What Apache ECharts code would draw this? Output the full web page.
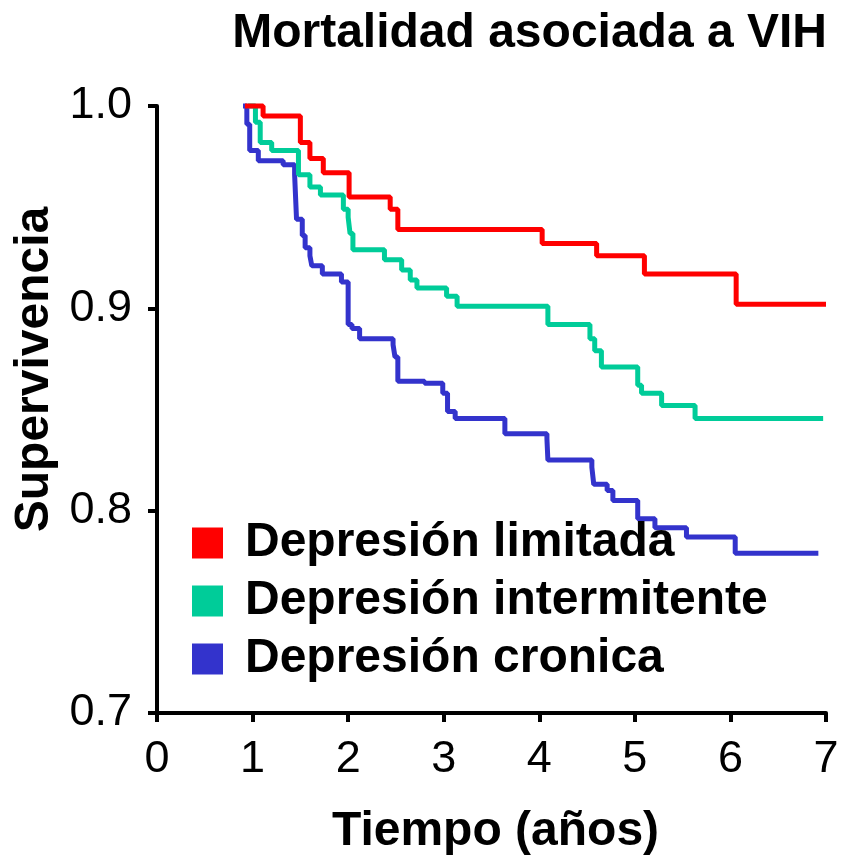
<!DOCTYPE html>
<html>
<head>
<meta charset="utf-8">
<script src="https://cdn.jsdelivr.net/npm/echarts@6/dist/echarts.min.js"></script>
<style>
html,body{margin:0;padding:0;background:#fff;}
#chart{width:849px;height:863px;}
</style>
</head>
<body>
<div id="chart"></div>
<script>
// ---- data (time in years, survival proportion) ----
const titleText = 'Mortalidad asociada a VIH';
const xAxisName = 'Tiempo (años)';
const yAxisName = 'Supervivencia';
const seriesNames = ['Depresión limitada', 'Depresión intermitente', 'Depresión cronica'];
const seriesColors = ['#FF0000', '#00CC99', '#3333CC'];
const xTicks = [0, 1, 2, 3, 4, 5, 6, 7];
const yTicks = [0.7, 0.8, 0.9, 1.0];

const limitadaT = [0.92, 1.11, 1.50, 1.60, 1.74, 2.01, 2.44, 2.52, 4.03, 4.60, 5.10, 6.06, 7.00];
const limitadaS = [1.000, 0.995, 0.982, 0.974, 0.967, 0.955, 0.949, 0.939, 0.932, 0.926, 0.917, 0.902, 0.902];

const intermitenteT = [0.95, 1.03, 1.08, 1.20, 1.48, 1.60, 1.71, 1.95, 2.00, 2.02, 2.05, 2.38, 2.56, 2.65, 2.72, 3.03, 3.14, 4.09, 4.53, 4.58, 4.65, 5.03, 5.07, 5.28, 5.63, 6.97];
const intermitenteS = [1.000, 0.992, 0.982, 0.978, 0.966, 0.960, 0.956, 0.949, 0.945, 0.937, 0.929, 0.924, 0.919, 0.914, 0.910, 0.906, 0.901, 0.892, 0.885, 0.879, 0.871, 0.862, 0.858, 0.852, 0.8455, 0.8455];

const cronicaT = [0.90, 0.94, 0.97, 1.06, 1.32, 1.44, 1.46, 1.52, 1.55, 1.60, 1.62, 1.73, 1.93, 2.00, 2.04, 2.12, 2.47, 2.49, 2.52, 2.80, 2.99, 3.04, 3.12, 3.64, 4.08, 4.09, 4.55, 4.57, 4.71, 4.77, 5.03, 5.21, 5.54, 6.05, 6.92];
const cronicaS = [1.000, 0.991, 0.978, 0.973, 0.971, 0.966, 0.944, 0.936, 0.930, 0.926, 0.921, 0.917, 0.913, 0.892, 0.890, 0.885, 0.882, 0.876, 0.864, 0.863, 0.858, 0.849, 0.8455, 0.838, 0.8355, 0.825, 0.8215, 0.813, 0.810, 0.805, 0.796, 0.7915, 0.787, 0.779, 0.779];

const zip = (t, s) => t.map((v, i) => [v, s[i]]);
const seriesData = [zip(limitadaT, limitadaS), zip(intermitenteT, intermitenteS), zip(cronicaT, cronicaS)];

const FONT = '"Liberation Sans", Arial, Helvetica, sans-serif';
const chart = echarts.init(document.getElementById('chart'), null, {renderer: 'canvas'});
chart.setOption({
  animation: false,
  backgroundColor: '#ffffff',
  title: {
    text: titleText,
    right: 17,
    top: 5,
    textStyle: {fontFamily: FONT, fontSize: 48, fontWeight: 'bold', color: '#000'}
  },
  legend: {
    orient: 'vertical',
    left: 187,
    top: 514,
    itemWidth: 31,
    itemHeight: 31,
    itemGap: 10,
    icon: 'rect',
    data: seriesNames,
    textStyle: {fontFamily: FONT, fontSize: 48, fontWeight: 'bold', color: '#000', padding: [0, 0, 0, 17]}
  },
  grid: {left: 157, right: 23, top: 106, bottom: 150, containLabel: false},
  xAxis: {
    type: 'value',
    min: xTicks[0],
    max: xTicks[xTicks.length - 1],
    interval: 1,
    name: xAxisName,
    nameLocation: 'middle',
    nameGap: 95,
    nameTextStyle: {fontFamily: FONT, fontSize: 48, fontWeight: 'bold', color: '#000', padding: [0, 0, 0, 8]},
    axisLine: {show: true, lineStyle: {color: '#000', width: 4}},
    axisTick: {show: true, length: 9, lineStyle: {color: '#000', width: 4}},
    axisLabel: {fontFamily: FONT, fontSize: 45, color: '#000', margin: 24},
    splitLine: {show: false}
  },
  yAxis: {
    type: 'value',
    min: yTicks[0],
    max: yTicks[yTicks.length - 1],
    interval: 0.1,
    name: yAxisName,
    nameLocation: 'middle',
    nameRotate: 90,
    nameGap: 92,
    nameTextStyle: {fontFamily: FONT, fontSize: 48, fontWeight: 'bold', color: '#000', padding: [0, 0, 0, 80]},
    axisLine: {show: true, lineStyle: {color: '#000', width: 4}},
    axisTick: {show: true, length: 9, lineStyle: {color: '#000', width: 4}},
    axisLabel: {fontFamily: FONT, fontSize: 45, color: '#000', margin: 25, formatter: v => v.toFixed(1)},
    splitLine: {show: false}
  },
  series: seriesNames.map((name, i) => ({
    name: name,
    type: 'line',
    step: 'end',
    data: seriesData[i],
    showSymbol: false,
    symbol: 'none',
    clip: false,
    color: seriesColors[i],
    lineStyle: {color: seriesColors[i], width: 5},
    z: 3 - i
  }))
});
</script>
</body>
</html>
